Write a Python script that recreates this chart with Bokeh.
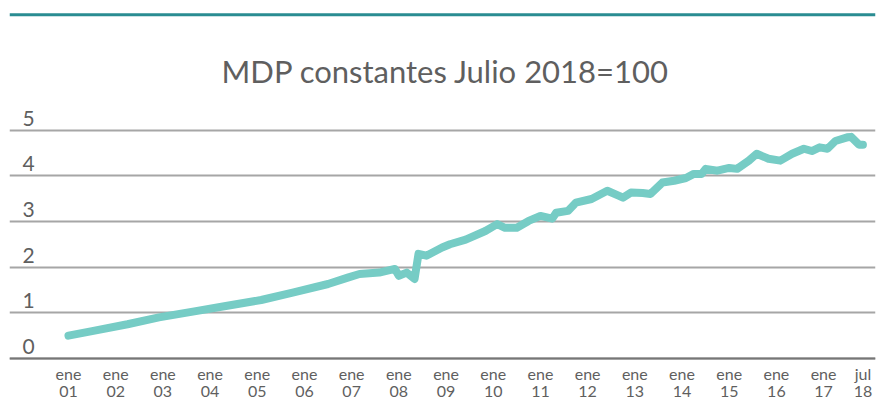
from bokeh.plotting import figure
from bokeh.models import Range1d, FixedTicker, Span, ColumnDataSource
from bokeh.core.properties import value
from bokeh.embed import file_html
from bokeh.resources import INLINE

# Month index since ene-01 (observation number)
months = [0, 6, 15, 23, 32, 40, 49, 57, 66, 71, 74, 79, 83, 84, 86, 88, 89, 91,
          95, 97, 101, 106, 109, 111, 114, 117, 120, 123, 124, 127, 129, 133,
          137, 140, 141, 143, 146, 148, 151, 154, 157, 159, 161, 162, 165, 168,
          170, 173, 175, 178, 181, 184, 187, 189, 191, 193, 195, 198, 199, 201, 202]
values = [0.50, 0.60, 0.75, 0.90, 1.03, 1.15, 1.28, 1.44, 1.63, 1.77, 1.85, 1.88,
          1.96, 1.81, 1.88, 1.74, 2.29, 2.25, 2.43, 2.50, 2.60, 2.79, 2.94, 2.86,
          2.86, 3.01, 3.12, 3.06, 3.19, 3.23, 3.41, 3.49, 3.67, 3.56, 3.52, 3.63,
          3.62, 3.60, 3.85, 3.89, 3.95, 4.04, 4.04, 4.15, 4.11, 4.17, 4.15, 4.33,
          4.48, 4.37, 4.33, 4.48, 4.59, 4.54, 4.62, 4.59, 4.76, 4.84, 4.85, 4.68, 4.68]

x_ticks = [0, 12, 24, 36, 48, 60, 72, 84, 96, 108, 120, 132, 144, 156, 168, 180, 192, 202]
x_tick_labels = ["ene\n01", "ene\n02", "ene\n03", "ene\n04", "ene\n05", "ene\n06",
                 "ene\n07", "ene\n08", "ene\n09", "ene\n10", "ene\n11", "ene\n12",
                 "ene\n13", "ene\n14", "ene\n15", "ene\n16", "ene\n17", "jul\n18"]
y_ticks = [0, 1, 2, 3, 4, 5]
y_tick_labels = ["0", "1", "2", "3", "4", "5"]
title_text = "MDP constantes Julio 2018=100"

FONT = "Lato"
TXT = "#5f5f5f"

X0, X1 = -15.0, 205.2
Y0, Y1 = -0.963, 7.834

p = figure(width=879, height=402, output_backend="svg", toolbar_location=None,
           x_range=Range1d(X0, X1), y_range=Range1d(Y0, Y1),
           min_border_left=9, min_border_right=4, min_border_top=0, min_border_bottom=0)
p.outline_line_color = None
p.background_fill_color = "white"
p.border_fill_color = "white"

# top decorative rule
p.add_layout(Span(location=7.52, dimension="width", line_color="#2A8C92", line_width=3))

# grid
p.xgrid.visible = False
p.yaxis.visible = False
p.yaxis.ticker = FixedTicker(ticks=y_ticks)
p.ygrid.ticker = FixedTicker(ticks=y_ticks)
p.ygrid.grid_line_color = "#A6A6A6"
p.ygrid.grid_line_width = 2

# x axis, drawn at y = 0
ax = p.xaxis[0]
ax.fixed_location = 0
ax.ticker = FixedTicker(ticks=x_ticks)
ax.major_label_overrides = {t: l for t, l in zip(x_ticks, x_tick_labels)}
ax.axis_line_color = "#767676"
ax.axis_line_width = 2
ax.major_tick_line_color = None
ax.minor_tick_line_color = None
ax.major_tick_in = 0
ax.major_tick_out = 0
ax.minor_tick_in = 0
ax.minor_tick_out = 0
ax.major_label_standoff = 6
ax.major_label_text_font = FONT
ax.major_label_text_font_size = "16px"
ax.major_label_text_color = TXT
ax.major_label_text_line_height = 0.85

# line
p.line(months, values, line_color="#76CCC5", line_width=8, line_join="round", line_cap="round")

# y labels (sit just above their grid line)
ysrc = ColumnDataSource(dict(x=[X0] * len(y_ticks), y=y_ticks, t=y_tick_labels))
p.text(x="x", y="y", text="t", source=ysrc, x_offset=13, y_offset=-12,
       text_font=value(FONT), text_font_size="21px", text_color=TXT,
       text_align="left", text_baseline="middle")

# title
p.text(x=[95.9], y=[6.30], text=[title_text], text_font=value(FONT),
       text_font_size="31px", text_color=TXT, text_align="center",
       text_baseline="middle")

open("out.html", "w").write(file_html(p, INLINE))
